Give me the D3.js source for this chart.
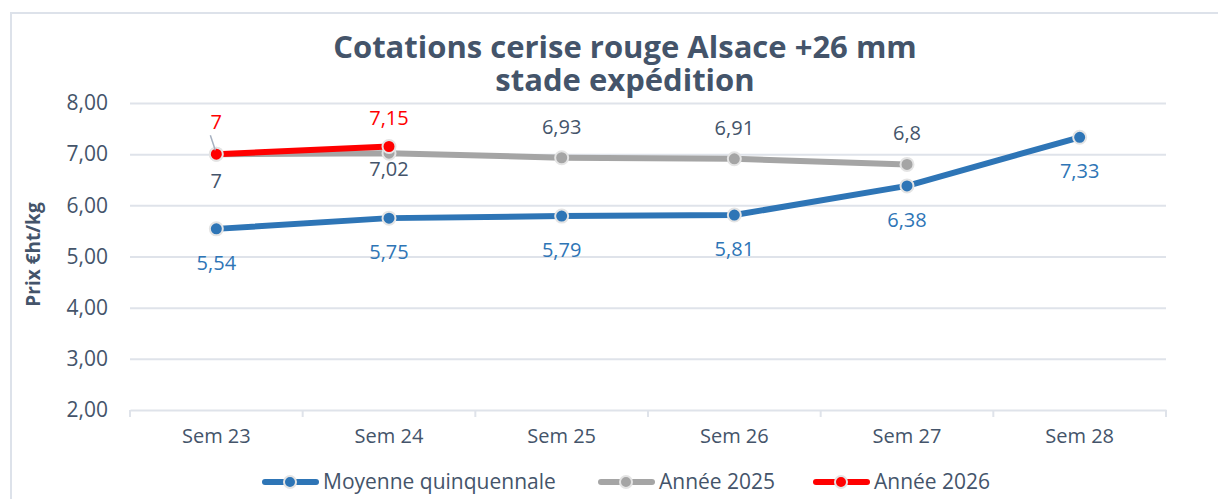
<!DOCTYPE html>
<html>
<head>
<meta charset="utf-8">
<script src="https://cdn.jsdelivr.net/npm/d3@7"></script>
<style>
  body { margin: 0; background: #fff; }
  svg { display: block; font-family: "Open Sans", Lato, sans-serif; }
</style>
</head>
<body>
<div id="chart"></div>
<script>
// data
var weeks = ["Sem 23", "Sem 24", "Sem 25", "Sem 26", "Sem 27", "Sem 28"];
var moyenne = [5.54, 5.75, 5.79, 5.81, 6.38, 7.33];
var annee2025 = [7, 7.02, 6.93, 6.91, 6.8, null];
var annee2026 = [7, 7.15, null, null, null, null];
var yTicks = [2, 3, 4, 5, 6, 7, 8];

var W = 1218, H = 499;
var margin = {top: 103, right: 52, bottom: 89, left: 130};
var width = W - margin.left - margin.right,
    height = H - margin.top - margin.bottom;

var svg = d3.select("#chart").append("svg")
    .attr("width", W).attr("height", H);

// frame
svg.append("path")
    .attr("d", "M11,499 L11,13 L1218,13")
    .attr("fill", "none").attr("stroke", "#dde2ea").attr("stroke-width", 2);

var x = d3.scaleBand().domain(weeks).range([0, width]);
var y = d3.scaleLinear().domain([2, 8]).range([height, 0]);

var g = svg.append("g")
    .attr("transform", "translate(" + margin.left + "," + margin.top + ")");

var textCol = "#44546a";

// grid
g.append("g")
    .call(d3.axisLeft(y).tickValues(yTicks).tickSize(-width)
        .tickFormat(function(d) { return d3.format(".2f")(d).replace(".", ","); }))
    .call(function(a) {
        a.select(".domain").remove();
        a.selectAll(".tick line").attr("stroke", "#dfe3ea").attr("stroke-width", 2)
          .filter(function(d) { return d === 2; }).remove();
        a.selectAll(".tick text").attr("x", -22).attr("fill", textCol)
          .style("font-size", "21px").style("font-family", "Open Sans");
    });

// x axis
var xa = g.append("g")
    .attr("transform", "translate(0," + height + ")")
    .call(d3.axisBottom(x).tickSize(0).tickPadding(19));
xa.select(".domain").attr("stroke", "#dfe3ea").attr("stroke-width", 2);
xa.selectAll(".tick text").attr("fill", textCol)
    .style("font-size", "20px").style("font-family", "Open Sans");
var bounds = weeks.map(function(w) { return x(w); }).concat([width]);
xa.selectAll(".sep").data(bounds).enter().append("line")
    .attr("x1", function(d) { return d; }).attr("x2", function(d) { return d; })
    .attr("y1", 0).attr("y2", 7)
    .attr("stroke", "#dfe3ea").attr("stroke-width", 2);

// y axis title
svg.append("text")
    .attr("transform", "translate(40," + (margin.top + height / 2 - 2) + ") rotate(-90)")
    .attr("text-anchor", "middle")
    .attr("fill", textCol)
    .style("font-size", "19px").style("font-weight", "bold")
    .text("Prix €ht/kg");

// title, two separate lines
svg.append("text")
    .attr("x", 625).attr("y", 58)
    .attr("text-anchor", "middle").attr("fill", textCol)
    .style("font-size", "31px").style("font-weight", "bold")
    .text("Cotations cerise rouge Alsace +26 mm");
svg.append("text")
    .attr("x", 625).attr("y", 91)
    .attr("text-anchor", "middle").attr("fill", textCol)
    .style("font-size", "31px").style("font-weight", "bold")
    .text("stade expédition");

// label offsets (baseline from point) per series
var series = [
    {name: "Moyenne quinquennale", values: moyenne, color: "#2e75b6", label: "#2e75b6",
     off: [41, 41, 41, 41, 41, 41]},
    {name: "Année 2025", values: annee2025, color: "#a5a5a5", label: textCol,
     off: [34, 23, -24, -24, -24, -24]},
    {name: "Année 2026", values: annee2026, color: "#ff0000", label: "#ff0000",
     off: [-25, -21, 0, 0, 0, 0]}
];

var cx = function(i) { return x(weeks[i]) + x.bandwidth() / 2; };
var line = d3.line()
    .defined(function(d) { return d != null; })
    .x(function(d, i) { return cx(i); })
    .y(function(d) { return y(d); });

series.forEach(function(s) {
    var sg = g.append("g");
    sg.append("path").datum(s.values)
        .attr("d", line)
        .attr("fill", "none").attr("stroke", s.color)
        .attr("stroke-width", 6).attr("stroke-linejoin", "round");
    sg.selectAll("circle").data(s.values).enter()
        .filter(function(d) { return d != null; })
        .append("circle")
        .attr("cx", function(d, i) { return cx(i); })
        .attr("cy", function(d) { return y(d); })
        .attr("r", 6.5)
        .attr("fill", s.color).attr("stroke", "#e4e4e4").attr("stroke-width", 2);
});

// labels drawn after lines
series.forEach(function(s) {
    s.values.forEach(function(d, i) {
        if (d == null) return;
        g.append("text")
            .attr("x", cx(i))
            .attr("y", y(d) + s.off[i])
            .attr("text-anchor", "middle")
            .attr("fill", s.label)
            .style("font-size", "20px").style("font-family", "Open Sans")
            .text(String(d).replace(".", ","));
    });
});

// leader line for red first label
g.append("line")
    .attr("x1", cx(0) - 6).attr("y1", y(annee2026[0]) - 19)
    .attr("x2", cx(0) - 1).attr("y2", y(annee2026[0]) - 4)
    .attr("stroke", "#a6b0c0").attr("stroke-width", 1.5);

// legend
var legendX = [262, 598, 813];
var lg = svg.append("g").attr("transform", "translate(0,482)");
series.forEach(function(s, i) {
    var lx = legendX[i];
    lg.append("line").attr("x1", lx + 3).attr("x2", lx + 54)
        .attr("stroke", s.color).attr("stroke-width", 6).attr("stroke-linecap", "round");
    lg.append("circle").attr("cx", lx + 28).attr("r", 6)
        .attr("fill", s.color).attr("stroke", "#e4e4e4").attr("stroke-width", 2);
    lg.append("text").attr("x", lx + 61).attr("y", 7)
        .attr("fill", textCol)
        .style("font-size", "21px").style("font-family", "Open Sans")
        .text(s.name);
});
</script>
</body>
</html>
